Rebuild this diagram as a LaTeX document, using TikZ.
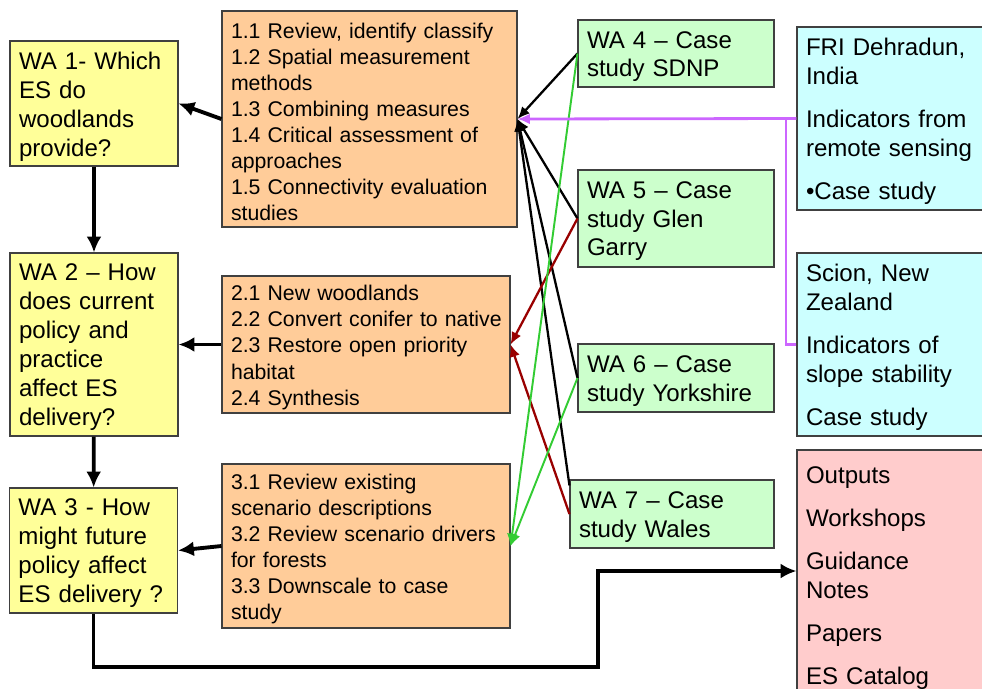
\documentclass[tikz,border=0pt]{standalone}
\usepackage{fontspec}
\setmainfont{Liberation Sans}
\usetikzlibrary{arrows.meta}

\definecolor{wayellow}{HTML}{FFFF99}
\definecolor{taskorange}{HTML}{FFCC99}
\definecolor{casegreen}{HTML}{CCFFCC}
\definecolor{partnercyan}{HTML}{CCFFFF}
\definecolor{outpink}{HTML}{FFCCCC}
\definecolor{linkpurple}{HTML}{CC66FF}
\definecolor{linkred}{HTML}{990000}
\definecolor{linkgreen}{HTML}{33CC33}

\tikzset{
  box/.style={draw=black!75, line width=0.6pt, inner xsep=0.18cm, inner ysep=0pt, align=left,
    execute at end node={\par\vspace*{-3.4pt}}},
  wabox/.style={box, fill=wayellow, minimum width=3.36cm, text width=3.0cm,
    font=\fontsize{13.7}{16.5}\selectfont},
  taskbox/.style={box, fill=taskorange, font=\fontsize{12.1}{14.8}\selectfont},
  casebox/.style={box, fill=casegreen, font=\fontsize{13.7}{16.2}\selectfont},
  sidebox/.style={box, minimum width=4.06cm, text width=3.7cm,
    font=\fontsize{13.7}{16.5}\selectfont},
  flow/.style={-{Latex[length=9pt,width=8.5pt]}, line width=2.2pt},
  link/.style={-{Latex[length=7pt,width=6pt]}, line width=1.3pt},
}

\begin{document}
\begin{tikzpicture}
  \useasboundingbox (0,0) rectangle (19.64,-13.76);

  % work areas
  \node [wabox, minimum height=2.5cm] (wa1) at (1.88,-2.07)
    {WA 1- Which\\ES do\\woodlands\\provide?};
  \node [wabox, minimum height=3.66cm] (wa2) at (1.88,-6.89)
    {WA 2 – How\\does current\\policy and\\practice\\affect ES\\delivery?};
  \node [wabox, minimum height=2.5cm] (wa3) at (1.87,-11.01)
    {WA 3 - How\\might future\\policy affect\\ES delivery ?};

  % tasks
  \node [taskbox, minimum width=5.9cm, text width=5.54cm, minimum height=4.32cm] (t1) at (7.39,-2.38)
    {1.1 Review, identify classify\\1.2 Spatial measurement\\methods\\1.3 Combining measures\\1.4 Critical assessment of\\approaches\\1.5 Connectivity evaluation\\studies};
  \node [taskbox, minimum width=5.76cm, text width=5.4cm, minimum height=2.74cm] (t2) at (7.32,-6.89)
    {2.1 New woodlands\\\mbox{2.2 Convert conifer to native}\\2.3 Restore open priority\\habitat\\2.4 Synthesis};
  \node [taskbox, minimum width=5.76cm, text width=5.4cm, minimum height=3.28cm] (t3) at (7.32,-10.92)
    {3.1 Review existing\\scenario descriptions\\3.2 Review scenario drivers\\for forests\\3.3 Downscale to case\\study};

  % case studies
  \node [casebox, minimum width=3.92cm, text width=3.56cm, minimum height=1.34cm] (wa4) at (13.52,-1.07)
    {WA 4 – Case\\study SDNP};
  \node [casebox, minimum width=3.92cm, text width=3.56cm, minimum height=1.94cm] (wa5) at (13.52,-4.37)
    {WA 5 – Case\\study Glen\\Garry};
  \node [casebox, minimum width=3.92cm, text width=3.56cm, minimum height=1.36cm] (wa6) at (13.52,-7.56)
    {WA 6 – Case\\study Yorkshire};
  \node [casebox, minimum width=4.08cm, text width=3.72cm, minimum height=1.36cm] (wa7) at (13.44,-10.28)
    {WA 7 – Case\\study Wales};

  % partners and outputs
  \node [sidebox, fill=partnercyan, minimum height=3.66cm] (fri) at (17.97,-2.37)
    {FRI Dehradun,\\India\\[8pt]Indicators from\\remote sensing\\[8pt]•Case study};
  \node [sidebox, fill=partnercyan, minimum height=3.66cm] (scion) at (17.97,-6.89)
    {Scion, New\\Zealand\\[8pt]Indicators of\\slope stability\\[8pt]Case study};
  \node [sidebox, fill=outpink, minimum height=5.0cm] (outputs) at (17.97,-11.5)
    {Outputs\\[8pt]Workshops\\[8pt]Guidance\\Notes\\[8pt]Papers\\[8pt]ES Catalog};

  % main flow
  \draw [flow] (wa1) -- (wa2);
  \draw [flow] (wa2) -- (wa3);
  \draw [flow] (t1.west) -- (wa1.east);
  \draw [flow] (t2.west) -- (wa2.east);
  \draw [flow] (t3.west) -- (wa3.east);
  \coordinate (turn) at (11.96,-13.34);
  \draw [flow] (wa3.south) |- (turn) |- ([yshift=0.08cm]outputs.west);

  % links from case studies
  \draw [link] (wa4.west) -- (t1.east);
  \draw [link] (wa5.west) -- (t1.east);
  \draw [link] (wa6.west) -- (t1.east);
  \draw [link] ([yshift=-0.12cm]wa7.north west) -- (t1.east);
  \draw [link, linkred] (wa5.west) -- (t2.east);
  \draw [link, linkred] (wa7.west) -- (t2.east);
  \draw [link, linkgreen, line width=1.1pt] (wa4.west) -- (t3.east);
  \draw [link, linkgreen, line width=1.1pt] (wa6.west) -- (t3.east);

  % partners
  \coordinate (join) at (15.72,-2.37);
  \draw [link, linkpurple, line width=1.6pt] (fri.west) -- (t1.east);
  \draw [line width=1.6pt, linkpurple] (scion.west) -| (join);
\end{tikzpicture}
\end{document}
